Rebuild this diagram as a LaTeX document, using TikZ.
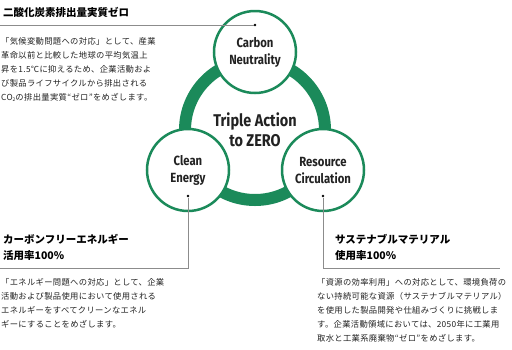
\documentclass[tikz,border=0pt]{standalone}
\usepackage{fontspec}
\setmainfont{Noto Sans CJK JP}
\newfontfamily\jpp{Noto Sans CJK JP}[LetterSpace=4]
\newfontfamily\enf{Fira Sans}[FakeStretch=0.85]
\definecolor{ringgreen}{HTML}{1B8A5A}
\definecolor{txt}{HTML}{222222}
\definecolor{leader}{HTML}{8C8C8C}
\begin{document}
\begin{tikzpicture}[x=1pt,y=-1pt,
  circ/.style={circle,draw=ringgreen,line width=2.5pt,fill=white,minimum size=82pt,inner sep=0pt,align=center,font=\enf\bfseries\fontsize{13.3}{17}\selectfont,text=txt},
  head/.style={anchor=west,inner sep=0pt,font=\bfseries\fontsize{10.5}{15.5}\selectfont,align=left,text=black},
  para/.style={anchor=north west,inner sep=0pt,font=\jpp\fontsize{8.3}{14}\selectfont,align=left,text=txt},
  lead/.style={draw=leader,line width=0.9pt},
  dotn/.style={circle,fill=black,inner sep=0pt,minimum size=2.6pt}]
\useasboundingbox (0,0) rectangle (512,349);
\fill[white] (0,0) rectangle (512,349);
% ring
\draw[ringgreen,line width=12pt] (255,130) circle[radius=70];
% circles
\node[circ] (cn) at (255,52) {Carbon\\Neutrality};
\node[circ] (ce) at (188,170) {Clean\\Energy};
\node[circ] (rc) at (323,170) {Resource\\Circulation};
\node[align=center,inner sep=0pt,text=txt,font=\enf\bfseries\fontsize{17}{20}\selectfont] (ta) at (255,130) {Triple Action\\to ZERO};
% leaders
\node[dotn] (d1) at (255,25) {};
\coordinate (c1) at (0,25);
\draw[lead] (c1) -- (d1);
\node[dotn] (d2) at (188,196) {};
\coordinate (c2) at (0,268);
\draw[lead] (d2) |- (c2);
\node[dotn] (d3) at (323,196) {};
\coordinate (c3) at (500,268);
\draw[lead] (d3) |- (c3);
% headings
\node[head] (h1) at (3,12) {二酸化炭素排出量実質ゼロ};
\node[head] (h2) at (3,247.5) {カーボンフリーエネルギー\\活用率100\%};
\node[head] (h3) at (335,247.5) {サステナブルマテリアル\\使用率100\%};
% paragraphs
\node[para] (p1) at (1,37) {「気候変動問題への対応」として、産業\\革命以前と比較した地球の平均気温上\\昇を1.5℃に抑えるため、企業活動およ\\び製品ライフサイクルから排出される\\CO{\fontsize{5}{5}\selectfont\raisebox{-1pt}{2}}の排出量実質“ゼロ”をめざします。};
\node[para] (p2) at (1,278) {「エネルギー問題への対応」として、企業\\活動および製品使用において使用される\\エネルギーをすべてクリーンなエネル\\ギーにすることをめざします。};
\node[para] (p3) at (317,278) {「資源の効率利用」への対応として、環境負荷の\\ない持続可能な資源（サステナブルマテリアル）\\を使用した製品開発や仕組みづくりに挑戦しま\\す。企業活動領域においては、2050年に工業用\\取水と工業系廃棄物“ゼロ”をめざします。};
\end{tikzpicture}
\end{document}
